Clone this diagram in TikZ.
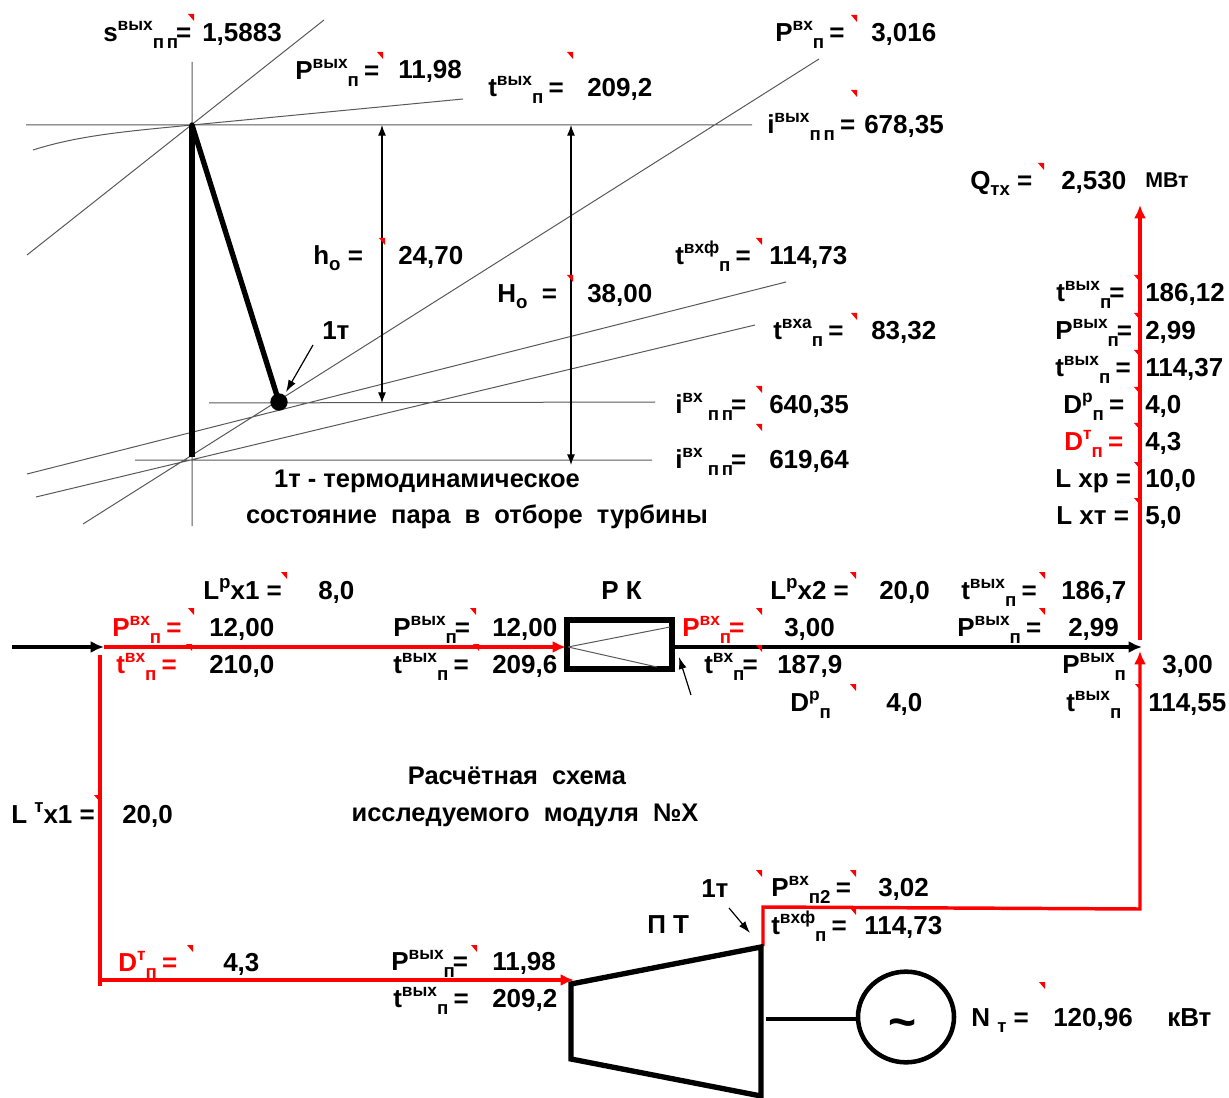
\documentclass[tikz,border=0pt]{standalone}
\usepackage{fontspec}
\setmainfont{Liberation Sans}
\usetikzlibrary{arrows.meta,shapes.geometric}
\newcommand{\supf}{\fontsize{13}{13}\selectfont}
\newcommand{\sbf}{\fontsize{14}{14}\selectfont}
\newcommand{\sx}[3]{#1\raisebox{0.42em}{\supf #2}\raisebox{-0.28em}{\sbf #3}\kern-1.5pt\relax}
\newcommand{\pp}{п\kern2pt\relax п}
\newcommand{\tl}[4]{\node[lab] (#1) at (#2,#3) {#4};}
\newcommand{\tc}[4]{\node[labc] (#1) at (#2,#3) {#4};}
\tikzset{
 lab/.style={anchor=base west,inner sep=0pt,yshift=0.5pt,font=\bfseries\fontsize{19.5}{19.5}\selectfont},
 labc/.style={anchor=base,inner sep=0pt,yshift=0.5pt,font=\bfseries\fontsize{19.1}{19.1}\selectfont},
 thinline/.style={draw=black!65,line width=0.75pt},
 dimline/.style={draw=black,line width=0.8pt,{Latex[length=8pt,width=6pt]}-{Latex[length=8pt,width=6pt]}},
 pointer/.style={draw=black,line width=0.9pt,-{Latex[length=9pt,width=6pt]}},
 thickstate/.style={draw=black,line width=4pt},
 flowk/.style={draw=black,line width=2.6pt,-{Latex[length=10pt,width=9pt]}},
 flowr/.style={draw=red,line width=2.6pt},
 flowra/.style={flowr,-{Latex[length=10pt,width=9pt]}},
 unitbox/.style={draw=black,line width=4pt,line join=miter},
 cmark/.style={fill=red},
}
\begin{document}
\begin{tikzpicture}[x=0.75pt,y=-0.75pt]
\useasboundingbox (0,0) rectangle (1229,1098);
% h-s chart
\coordinate (A) at (192,125); \coordinate (B) at (192,457); \coordinate (T) at (279,402);
\coordinate (v0) at (192,62); \coordinate (v1) at (192,526);
\coordinate (h1a) at (26,125); \coordinate (h1b) at (752,125);
\coordinate (h2a) at (209,403); \coordinate (h2b) at (655,402);
\coordinate (h3a) at (135,460); \coordinate (h3b) at (652,460);
\coordinate (d1a) at (27,255); \coordinate (d1b) at (324,20);
\coordinate (d2a) at (83,524); \coordinate (d2b) at (819,59);
\coordinate (d3a) at (27,474); \coordinate (d3b) at (786,282);
\coordinate (d4a) at (36,497); \coordinate (d4b) at (755,325);
\coordinate (pa) at (33,150); \coordinate (pb) at (463,99);
\draw[thinline] (v0)--(A) (B)--(v1) (h1a)--(h1b) (h2a)--(h2b) (h3a)--(h3b)
  (d1a)--(d1b) (d2a)--(d2b) (d3a)--(d3b) (d4a)--(d4b);
\draw[thinline] (pa) .. controls (80,135) and (130,131) .. (A) -- (pb);
\draw[thickstate] (A)--(B);
\draw[thickstate,line cap=round] (A)--(T);
\node[circle,fill=black,minimum size=13pt,inner sep=0pt] (Tdot) at (T) {};
\coordinate (h0a) at (382,125); \coordinate (h0b) at (382,403);
\coordinate (H0a) at (571,125); \coordinate (H0b) at (571,465);
\draw[dimline] (h0a)--(h0b);
\draw[dimline] (H0a)--(H0b);
\coordinate (p1s) at (313,345); \coordinate (p1e) at (286,392);
\draw[pointer] (p1s)--(p1e);
% scheme
\coordinate (in0) at (12,647); \coordinate (J) at (104,647);
\coordinate (rkL) at (566,647); \coordinate (rkR) at (672,647);
\coordinate (out) at (1142,647);
\coordinate (Jv) at (100,655); \coordinate (Jd) at (100,986); \coordinate (Jc) at (100,980); \coordinate (Tin) at (574,980);
\coordinate (t1) at (763,946); \coordinate (t2) at (763,907); \coordinate (t3) at (1140,909); \coordinate (t4) at (1140,651);
\coordinate (qa) at (1140,640); \coordinate (qb) at (1140,205);
\draw[flowk] (in0)--(J);
\draw[flowra] (J)--(rkL);
\draw[flowr] (Jv)--(Jd);
\draw[flowra] (Jc)--(Tin);
\draw[flowra] (t1)--(t2)--(t3)--(t4);
\draw[flowra] (qa)--(qb);
\draw[flowk] (rkR)--(out);
% valve
\draw[unitbox] (567,620) rectangle (672,669);
\coordinate (vA) at (568,647); \coordinate (vB) at (670,627); \coordinate (vC) at (657,667);
\draw[thinline] (vA)--(vB) (vA)--(vC);
\coordinate (p2s) at (691,695); \coordinate (p2e) at (679,657);
\draw[pointer] (p2s)--(p2e);
% turbine
\draw[unitbox] (571,984)--(761,947)--(761,1096)--(571,1059)--cycle;
\node[draw=black,line width=3.4pt,ellipse,minimum width=72pt,minimum height=68pt,inner sep=0pt] (gen) at (906,1017) {};
\coordinate (sh) at (766,1019);
\draw[draw=black,line width=2.4pt] (sh)--(gen.west |- sh);
\node[inner sep=0pt,font=\bfseries\fontsize{36}{36}\selectfont] (gent) at (903,1029) {\textasciitilde};
\coordinate (p3s) at (729,908); \coordinate (p3e) at (750,933);
\draw[pointer] (p3s)--(p3e);
% comment markers
\foreach \x/\y in {188/14,377/52,567/52,851/15,851/90,379/238,567/275,756/238,851/313,756/386,756/424,
 1038/163,1134/275,1134/313,1134/350,1134/387,1134/423,1134/462,1134/498,
 188/608,281/572,470/608,186/644,473/644,94/795,850/572,1039/572,756/608,1039/608,756/645,850/684,1135/684,
 756/870,850/870,850/908,1039/982,187/945,471/945}
  \fill[cmark] (\x,\y)--++(6,0)--++(0,7)--cycle;
% texts: chart
\tl{a1}{103}{42}{\sx{s}{вых}{\pp}=}\tl{a2}{202}{42}{1,5883}
\tl{b1}{295}{80}{\sx{P}{вых}{п} =}\tl{b2}{398}{79}{11,98}
\tl{c1}{488}{97}{\sx{t}{вых}{п} =}\tl{c2}{587}{97}{209,2}
\tl{d1}{775}{42}{\sx{P}{вх}{п} =}\tl{d2}{871}{42}{3,016}
\tl{e1}{767}{134}{\sx{i}{вых}{\pp} =}\tl{e2}{864}{134}{678,35}
\tl{f1}{970}{190}{Q\raisebox{-0.22em}{\sbf тх} =}\tl{f2}{1061}{190}{2,530}
\node[lab,font=\bfseries\fontsize{16}{16}\selectfont] (f3) at (1145,188) {МВт};
\tl{g1}{313}{265}{h\raisebox{-0.22em}{\sbf о} =}\tl{g2}{398}{265}{24,70}
\tl{h1}{497}{303}{H\raisebox{-0.22em}{\sbf о}\ \ =}\tl{h2}{587}{303}{38,00}
\tl{i1}{675}{265}{\sx{t}{вхф}{п} =}\tl{i2}{769}{265}{114,73}
\tl{j1}{773}{340}{\sx{t}{вха}{п} =}\tl{j2}{871}{340}{83,32}
\tl{k1}{322}{340}{1т}
\tl{l1}{675}{414}{\sx{i}{вх}{ \pp}=}\tl{l2}{769}{414}{640,35}
\tl{m1}{675}{469}{\sx{i}{вх}{ \pp}=}\tl{m2}{769}{469}{619,64}
\tc{n1}{427}{488}{1т - термодинамическое}
\tc{n2}{477}{524}{состояние\ \ пара\ \ в\ \ отборе\ \ турбины}
% right column
\tl{r1}{1056}{302}{\sx{t}{вых}{п}=}\tl{r1v}{1145}{302}{186,12}
\tl{r2}{1055}{340}{\sx{P}{вых}{п}=}\tl{r2v}{1145}{340}{2,99}
\tl{r3}{1055}{377}{\sx{t}{вых}{п} =}\tl{r3v}{1145}{377}{114,37}
\tl{r4}{1063}{414}{\sx{D}{р}{п} =}\tl{r4v}{1145}{414}{4,0}
\tl{r5}{1064}{451}{\textcolor{red}{\sx{D}{т}{п} =}}\tl{r5v}{1145}{451}{4,3}
\tl{r6}{1055}{488}{L хр =}\tl{r6v}{1145}{488}{10,0}
\tl{r7}{1056}{525}{L хт =}\tl{r7v}{1145}{525}{5,0}
% scheme labels
\tl{s1}{203}{600}{L\raisebox{0.42em}{\sbf р}х1 =}\tl{s1v}{318}{600}{8,0}
\tl{s2}{112}{637}{\textcolor{red}{\sx{P}{вх}{п} =}}\tl{s2v}{209}{637}{12,00}
\tl{s3}{116}{674}{\textcolor{red}{\sx{t}{вх}{п} =}}\tl{s3v}{209}{674}{210,0}
\tl{s4}{393}{637}{\sx{P}{вых}{п}=}\tl{s4v}{492}{637}{12,00}
\tl{s5}{393}{674}{\sx{t}{вых}{п} =}\tl{s5v}{492}{674}{209,6}
\tl{s6}{601}{600}{Р К}
\tl{s7}{770}{600}{L\raisebox{0.42em}{\sbf р}х2 =}\tl{s7v}{879}{600}{20,0}
\tl{s8}{961}{600}{\sx{t}{вых}{п} =}\tl{s8v}{1061}{600}{186,7}
\tl{s9}{682}{637}{\textcolor{red}{\sx{P}{вх}{п}=}}\tl{s9v}{784}{637}{3,00}
\tl{s10}{957}{637}{\sx{P}{вых}{п} =}\tl{s10v}{1068}{637}{2,99}
\tl{s11}{704}{674}{\sx{t}{вх}{п}=}\tl{s11v}{777}{674}{187,9}
\tl{s12}{790}{712}{\sx{D}{р}{п}}\tl{s12v}{886}{712}{4,0}
\tl{s13}{1062}{674}{\sx{P}{вых}{п}}\tl{s13v}{1162}{674}{3,00}
\tl{s14}{1066}{712}{\sx{t}{вых}{п}}\tl{s14v}{1148}{712}{114,55}
\tc{s15}{517}{785}{Расчётная\ \ схема}
\tc{s16}{525}{822}{исследуемого\ \ модуля\ \ №Х}
\tl{s17}{11}{824}{L \raisebox{0.42em}{\sbf т}х1 =}\tl{s17v}{122}{824}{20,0}
\tl{s18}{701}{898}{1т}
\tl{s19}{771}{897}{\sx{P}{вх}{п2} =}\tl{s19v}{878}{897}{3,02}
\tl{s20}{647}{934}{П Т}
\tl{s21}{771}{935}{\sx{t}{вхф}{п} =}\tl{s21v}{864}{935}{114,73}
\tl{s22}{118}{972}{\textcolor{red}{\sx{D}{т}{п} =}}\tl{s22v}{223}{972}{4,3}
\tl{s23}{391}{971}{\sx{P}{вых}{п}=}\tl{s23v}{492}{971}{11,98}
\tl{s24}{393}{1008}{\sx{t}{вых}{п} =}\tl{s24v}{492}{1008}{209,2}
\tl{s25}{971}{1027}{N \raisebox{-0.22em}{\sbf т} =}\tl{s25v}{1053}{1027}{120,96}
\tl{s26}{1167}{1027}{кВт}
\end{tikzpicture}
\end{document}
